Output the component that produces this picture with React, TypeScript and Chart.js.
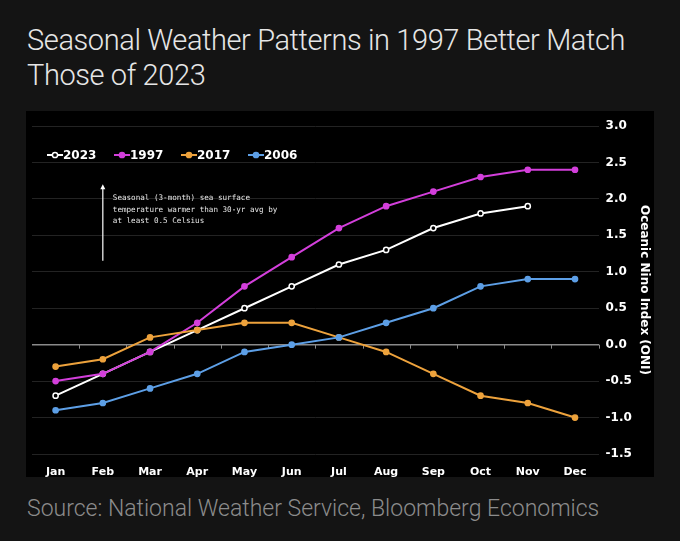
import React, { useEffect, useRef } from 'react';
import { Chart, registerables } from 'chart.js';

Chart.register(...registerables);

const months = ['Jan', 'Feb', 'Mar', 'Apr', 'May', 'Jun', 'Jul', 'Aug', 'Sep', 'Oct', 'Nov', 'Dec'];
const oni2023 = [-0.7, -0.4, -0.1, 0.2, 0.5, 0.8, 1.1, 1.3, 1.6, 1.8, 1.9, null];
const oni1997 = [-0.5, -0.4, -0.1, 0.3, 0.8, 1.2, 1.6, 1.9, 2.1, 2.3, 2.4, 2.4];
const oni2017 = [-0.3, -0.2, 0.1, 0.2, 0.3, 0.3, 0.1, -0.1, -0.4, -0.7, -0.8, -1.0];
const oni2006 = [-0.9, -0.8, -0.6, -0.4, -0.1, 0.0, 0.1, 0.3, 0.5, 0.8, 0.9, 0.9];
const seriesNames = ['2023', '1997', '2017', '2006'];
const yMin = -1.5;
const yMax = 3.0;
const yStep = 0.5;
const annotationLines = [
  'Seasonal (3-month) sea surface',
  'temperature warmer than 30-yr avg by',
  'at least 0.5 Celsius',
];
const arrowCategory = 'Feb';
const arrowFrom = 1.15;
const arrowTo = 2.2;

const TITLE = 'Seasonal Weather Patterns in 1997 Better Match Those of 2023';
const SOURCE = 'Source: National Weather Service, Bloomberg Economics';

const FONT = "'DejaVu Sans', Verdana, sans-serif";

const legendPlugin = {
  id: 'customLegend',
  afterDraw(chart: any) {
    const { ctx, chartArea } = chart;
    const y = chartArea.top + 29;
    let x = chartArea.left + 15;
    ctx.save();
    ctx.font = `bold 12px ${FONT}`;
    ctx.textBaseline = 'middle';
    ctx.textAlign = 'left';
    const order = [...chart.data.datasets].reverse();
    order.forEach((ds: any) => {
      ctx.strokeStyle = ds.borderColor;
      ctx.lineWidth = 2;
      ctx.beginPath();
      ctx.moveTo(x, y);
      ctx.lineTo(x + 16, y);
      ctx.stroke();
      ctx.beginPath();
      ctx.arc(x + 8, y, 2.6, 0, Math.PI * 2);
      ctx.fillStyle = ds.pointBackgroundColor;
      ctx.fill();
      ctx.lineWidth = 1.5;
      ctx.stroke();
      ctx.fillStyle = '#ffffff';
      ctx.fillText(ds.label, x + 16, y + 1);
      x += 67;
    });
    ctx.restore();
  },
};

const annotationPlugin = {
  id: 'arrowNote',
  afterDatasetsDraw(chart: any) {
    const { ctx, scales } = chart;
    const xs = scales.x;
    const ys = scales.y;
    const ax = xs.getPixelForValue(months.indexOf(arrowCategory));
    const y0 = ys.getPixelForValue(arrowFrom);
    const y1 = ys.getPixelForValue(arrowTo);
    ctx.save();
    ctx.strokeStyle = '#ffffff';
    ctx.fillStyle = '#ffffff';
    ctx.lineWidth = 1.2;
    ctx.beginPath();
    ctx.moveTo(ax, y0);
    ctx.lineTo(ax, y1 + 3);
    ctx.stroke();
    ctx.beginPath();
    ctx.moveTo(ax, y1);
    ctx.lineTo(ax - 2.5, y1 + 5);
    ctx.lineTo(ax + 2.5, y1 + 5);
    ctx.closePath();
    ctx.fill();
    ctx.font = `7.6px 'DejaVu Sans Mono', 'Liberation Mono', monospace`;
    ctx.fillStyle = '#e6e6e6';
    ctx.textBaseline = 'middle';
    ctx.textAlign = 'left';
    annotationLines.forEach((line, i) => {
      ctx.fillText(line, ax + 10, y1 + 14 + i * 11.5);
    });
    ctx.restore();
  },
  beforeDatasetsDraw(chart: any) {
    // small tick marks along the zero line at category boundaries
    const { ctx, scales, chartArea } = chart;
    const xs = scales.x;
    const y0 = scales.y.getPixelForValue(0);
    const half = (xs.getPixelForValue(1) - xs.getPixelForValue(0)) / 2;
    ctx.save();
    ctx.strokeStyle = '#8a8a8a';
    ctx.lineWidth = 1;
    for (let i = 1; i <= months.length; i++) {
      const px = i < months.length ? xs.getPixelForValue(i) - half : chartArea.right;
      ctx.beginPath();
      ctx.moveTo(Math.round(px) + 0.5, y0);
      ctx.lineTo(Math.round(px) + 0.5, y0 + 4);
      ctx.stroke();
    }
    ctx.restore();
  },
};

export default function App() {
  const ref = useRef<HTMLCanvasElement | null>(null);

  useEffect(() => {
    document.body.style.margin = '0';
    document.body.style.background = '#141414';
    if (!ref.current) return;
    const mk = (label: string, data: (number | null)[], color: string, fill: string) => ({
      label,
      data,
      borderColor: color,
      backgroundColor: color,
      pointBackgroundColor: fill,
      pointBorderColor: color,
      pointRadius: 2.6,
      pointBorderWidth: 1.5,
      borderWidth: 2,
      tension: 0,
      spanGaps: false,
    });
    // drawn in reverse so that 2023 sits on top
    const chart = new Chart(ref.current, {
      type: 'line',
      data: {
        labels: months,
        datasets: [
          mk(seriesNames[3], oni2006, '#5d9fe6', '#5d9fe6'),
          mk(seriesNames[2], oni2017, '#eda23c', '#eda23c'),
          mk(seriesNames[1], oni1997, '#d33fdb', '#d33fdb'),
          mk(seriesNames[0], oni2023, '#ffffff', '#000000'),
        ],
      },
      options: {
        animation: false,
        responsive: false,
        maintainAspectRatio: false,
        layout: { padding: { top: 15, left: 6, right: 0, bottom: 0 } },
        plugins: {
          legend: { display: false },
          tooltip: { enabled: false },
        },
        scales: {
          x: {
            offset: true,
            grid: { display: false },
            border: { display: false },
            ticks: {
              color: '#ffffff',
              font: { family: FONT, size: 11, weight: 'bold' },
              padding: 4,
              maxRotation: 0,
            },
            afterFit: (s: any) => { s.height = 23; },
          },
          y: {
            position: 'right',
            min: yMin,
            max: yMax,
            grid: {
              color: (c: any) => (c.tick && c.tick.value === 0 ? '#8a8a8a' : '#232323'),
              lineWidth: (c: any) => (c.tick && c.tick.value === 0 ? 1.5 : 1),
              drawTicks: false,
            },
            border: { display: false },
            ticks: {
              stepSize: yStep,
              color: '#ffffff',
              padding: 7,
              font: { family: FONT, size: 12, weight: 'bold' },
              callback: (v: any) => Number(v).toFixed(1),
            },
            title: {
              display: true,
              text: 'Oceanic Nino Index (ONI)',
              color: '#ffffff',
              font: { family: FONT, size: 12, weight: 'bold' },
              padding: 3,
            },
            afterFit: (s: any) => { s.width = 55.4; },
          },
        },
      },
      plugins: [legendPlugin, annotationPlugin],
    } as any);
    return () => chart.destroy();
  }, []);

  return (
    <div style={{ position: 'relative', width: 680, height: 541, background: '#141414', overflow: 'hidden' }}>
      <div
        style={{
          position: 'absolute',
          left: 27,
          top: 23,
          width: 640,
          fontFamily: "Roboto, 'Noto Sans', sans-serif",
          fontWeight: 300,
          fontSize: 29,
          lineHeight: '35px',
          color: '#e6e6e6',
          letterSpacing: '-0.4px',
        }}
      >
        {TITLE}
      </div>
      <div style={{ position: 'absolute', left: 26, top: 111, width: 628, height: 366, background: '#000000' }}>
        <canvas ref={ref} width={628} height={366} style={{ display: 'block', width: 628, height: 366 }} />
      </div>
      <div
        style={{
          position: 'absolute',
          left: 27,
          top: 494,
          fontFamily: "Roboto, 'Noto Sans', sans-serif",
          fontWeight: 300,
          fontSize: 23,
          lineHeight: '30px',
          color: '#8c8c8c',
          whiteSpace: 'nowrap',
        }}
      >
        {SOURCE}
      </div>
    </div>
  );
}
